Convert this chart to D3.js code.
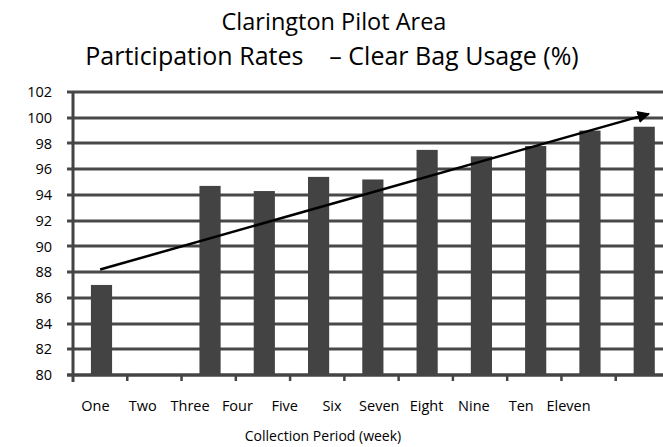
<!DOCTYPE html>
<html>
<head>
<meta charset="utf-8">
<script src="https://cdn.jsdelivr.net/npm/d3@7/dist/d3.min.js"></script>
<style>
  body { margin: 0; background: #fff; }
  text { font-family: "Open Sans", "Liberation Sans", sans-serif; fill: #000; }
</style>
</head>
<body>
<script>
var weeks = ["One", "Two", "Three", "Four", "Five", "Six", "Seven", "Eight", "Nine", "Ten", "Eleven"];
var usage = [87.0, null, 94.7, 94.3, 95.4, 95.2, 97.5, 97.0, 97.8, 99.0, 99.3];
var yTicks = [80, 82, 84, 86, 88, 90, 92, 94, 96, 98, 100, 102];
var trendWeeks = ["One", "Eleven"];
var trendValues = [88.2, 100.3];

var totalWidth = 663, totalHeight = 447;
var margin = {top: 92, left: 73, bottom: 72, right: -7};
var width = totalWidth - margin.left - margin.right;
var height = totalHeight - margin.top - margin.bottom;

var svg = d3.select("body").append("svg")
    .attr("width", totalWidth)
    .attr("height", totalHeight);

svg.append("defs").append("marker")
    .attr("id", "arrow")
    .attr("viewBox", "0 0 10 10")
    .attr("refX", 9).attr("refY", 5)
    .attr("markerWidth", 5).attr("markerHeight", 5)
    .attr("orient", "auto")
  .append("path")
    .attr("d", "M0,0 L10,5 L0,10 z")
    .attr("fill", "#000");

var g = svg.append("g")
    .attr("transform", "translate(" + margin.left + "," + margin.top + ")");

var xScale = d3.scaleBand().domain(weeks).range([0, width]);
var yScale = d3.scaleLinear().domain([80, 102]).range([height, 0]);

// gridlines (also act as left tick marks)
g.append("g")
    .selectAll("line")
    .data(yTicks)
    .join("line")
    .attr("x1", -6).attr("x2", width)
    .attr("y1", function(d){ return Math.round(yScale(d)); })
    .attr("y2", function(d){ return Math.round(yScale(d)); })
    .attr("stroke", "#484848")
    .attr("stroke-width", 3);

var yAxis = g.append("g")
    .call(d3.axisLeft(yScale).tickValues(yTicks).tickSize(0).tickPadding(21));
yAxis.select(".domain").remove();
yAxis.selectAll(".tick text")
    .style("font-size", "14.5px");

// bars
g.selectAll("rect.bar")
    .data(weeks.filter(function(w, i){ return usage[i] != null; }))
    .join("rect")
    .attr("class", "bar")
    .attr("x", function(w){ return xScale(w) + xScale.bandwidth() * 0.33; })
    .attr("width", xScale.bandwidth() * 0.39)
    .attr("y", function(w){ return yScale(usage[weeks.indexOf(w)]); })
    .attr("height", function(w){ return height - yScale(usage[weeks.indexOf(w)]); })
    .attr("fill", "#434343");

// y axis line
g.append("line")
    .attr("x1", 0).attr("x2", 0)
    .attr("y1", 0).attr("y2", height + 7)
    .attr("stroke", "#444").attr("stroke-width", 3);

// x axis baseline and boundary ticks
g.append("line")
    .attr("x1", -6).attr("x2", width)
    .attr("y1", Math.round(height)).attr("y2", Math.round(height))
    .attr("stroke", "#444").attr("stroke-width", 3);
g.append("g")
    .selectAll("line")
    .data(weeks)
    .join("line")
    .attr("x1", function(w){ return xScale(w) + xScale.bandwidth(); })
    .attr("x2", function(w){ return xScale(w) + xScale.bandwidth(); })
    .attr("y1", height).attr("y2", height + 6)
    .attr("stroke", "#444").attr("stroke-width", 2.5);

// category labels (slightly compressed spacing, as in the source)
var labelScale = d3.scalePoint().domain(weeks).range([95 - margin.left, 568 - margin.left]);
var xAxis = g.append("g")
    .attr("transform", "translate(0," + height + ")")
    .call(d3.axisBottom(labelScale).tickSize(0).tickPadding(26));
xAxis.select(".domain").remove();
xAxis.selectAll(".tick text").style("font-size", "14.5px");

// trend arrow
var trend = trendWeeks.map(function(w, i){ return [w, trendValues[i]]; });
g.append("path")
    .datum(trend)
    .attr("d", d3.line()
        .x(function(d){ return xScale(d[0]) + xScale.bandwidth() / 2 + (d[0] === "Eleven" ? 6 : 0); })
        .y(function(d){ return yScale(d[1]); }))
    .attr("stroke", "#000")
    .attr("stroke-width", 2.5)
    .attr("fill", "none")
    .attr("marker-end", "url(#arrow)");

// titles
svg.append("text")
    .attr("x", 334).attr("y", 30)
    .attr("text-anchor", "middle")
    .style("font-size", "23.5px")
    .text("Clarington Pilot Area");
svg.append("text")
    .attr("x", 332).attr("y", 65)
    .attr("text-anchor", "middle")
    .attr("xml:space", "preserve")
    .style("white-space", "pre")
    .style("font-size", "25px")
    .text("Participation Rates    \u2013 Clear Bag Usage (%)");
svg.append("text")
    .attr("x", 323).attr("y", 441)
    .attr("text-anchor", "middle")
    .style("font-size", "14px")
    .text("Collection Period (week)");
</script>
</body>
</html>
